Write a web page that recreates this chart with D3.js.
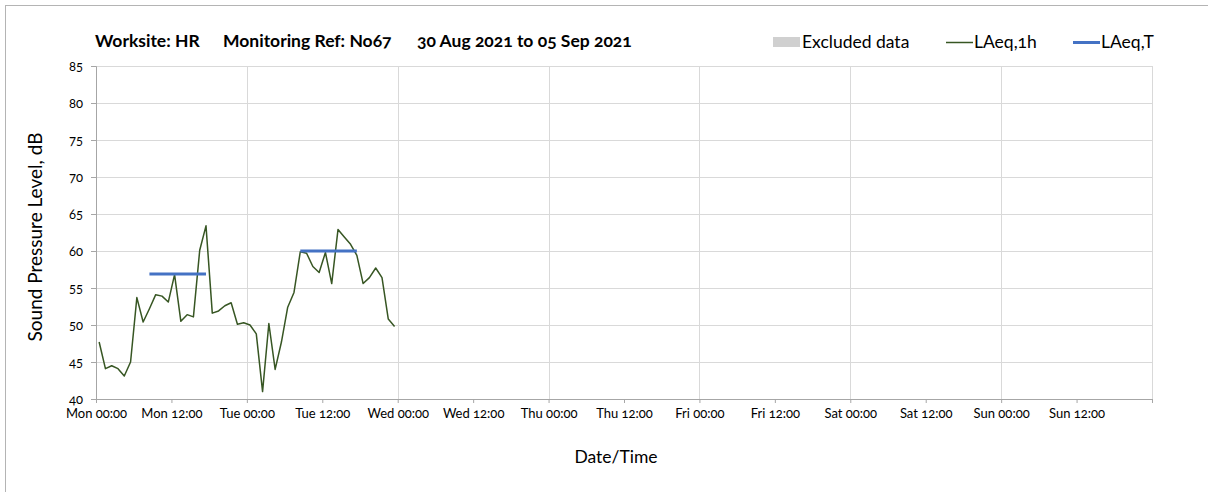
<!DOCTYPE html>
<html>
<head>
<meta charset="utf-8">
<script src="https://cdn.jsdelivr.net/npm/d3@7"></script>
<style>
	body { margin: 0; background: #fff; }
	text { font-family: Lato, "Open Sans", sans-serif; font-variant-numeric: oldstyle-nums; fill: #000; }
	.grid line { stroke: #d9d9d9; stroke-width: 1; }
	.axis path, .axis line { stroke: #a6a6a6; }
</style>
</head>
<body>
<svg class="chart" width="1208" height="492"></svg>
<script>
// hourly LAeq,1h values from Mon 30 Aug 2021 00:00, plotted at mid-hour
var startTime = '2021-08-30 00:30';
var laeq1h = [47.7, 44.1, 44.5, 44.1, 43.1, 45.0, 53.7, 50.4, 52.2, 54.1, 53.9, 53.1,
	56.8, 50.5, 51.4, 51.1, 60.1, 63.4, 51.6, 51.9, 52.6, 53.0, 50.1, 50.3,
	50.0, 48.8, 41.0, 50.2, 44.0, 47.7, 52.4, 54.4, 59.9, 59.7, 57.9, 57.1,
	59.8, 55.6, 62.9, 61.9, 60.9, 59.4, 55.6, 56.4, 57.7, 56.4, 50.8, 49.8];

// LAeq,T day periods
var periodFrom = ['2021-08-30 08:30', '2021-08-31 08:30'];
var periodTo = ['2021-08-30 17:30', '2021-08-31 17:30'];
var periodValue = [56.9, 60.0];

var axisStart = '2021-08-30 00:00',
	axisEnd = '2021-09-06 00:00';
var yTicks = [40, 45, 50, 55, 60, 65, 70, 75, 80, 85];

var titleParts = ['Worksite: HR', 'Monitoring Ref: No67', '30 Aug 2021 to 05 Sep 2021'];
var legendLabels = ['Excluded data', 'LAeq,1h', 'LAeq,T'];

var parseTime = d3.timeParse('%Y-%m-%d %H:%M'),
	formatTick = d3.timeFormat('%a %H:%M');

var margin = {top: 66, right: 56, bottom: 93, left: 96},
	width = 1208 - margin.left - margin.right,
	height = 492 - margin.top - margin.bottom;

var svg = d3.select('.chart');

// outer frame
svg.append('rect')
	.attr('x', 5.5).attr('y', 5.5)
	.attr('width', 1220).attr('height', 520)
	.attr('fill', 'none')
	.attr('stroke', '#b4b4b4');

var chart = svg.append('g')
	.attr('transform', 'translate(' + margin.left + ',' + margin.top + ')');

var x = d3.scaleTime()
	.domain([parseTime(axisStart), parseTime(axisEnd)])
	.range([0, width]);
var y = d3.scaleLinear()
	.domain([40, 85])
	.range([height, 0]);

var t0 = parseTime(startTime);
var points = laeq1h.map(function(v, i){
	return {t: d3.timeHour.offset(t0, i), v: v};
});

// grid
chart.append('g')
	.attr('class', 'grid')
	.selectAll('line.h')
	.data(yTicks.slice(1))
	.enter().append('line')
	.attr('x1', 0).attr('x2', width)
	.attr('y1', function(d){ return Math.round(y(d)) + 0.5; })
	.attr('y2', function(d){ return Math.round(y(d)) + 0.5; });

chart.append('g')
	.attr('class', 'grid')
	.selectAll('line.v')
	.data(d3.timeDay.range(d3.timeDay.offset(x.domain()[0], 1), d3.timeDay.offset(x.domain()[1], 1)))
	.enter().append('line')
	.attr('y1', 0).attr('y2', height)
	.attr('x1', function(d){ return Math.round(x(d)) + 0.5; })
	.attr('x2', function(d){ return Math.round(x(d)) + 0.5; });

// axes
var xAxis = d3.axisBottom(x)
	.tickValues(d3.timeHour.every(12).range(x.domain()[0], d3.timeHour.offset(x.domain()[1], 1)))
	.tickSize(4)
	.tickPadding(6)
	.tickFormat(function(d){ return +d === +x.domain()[1] ? '' : formatTick(d); });

var yAxis = d3.axisLeft(y)
	.tickValues(yTicks)
	.tickSize(5)
	.tickPadding(8)
	.tickFormat(d3.format('d'));

chart.append('g')
	.attr('class', 'x axis')
	.attr('transform', 'translate(0,' + height + ')')
	.call(xAxis)
	.call(function(g){ g.selectAll('text').style('font-size', '13px'); });

chart.append('g')
	.attr('class', 'y axis')
	.call(yAxis)
	.call(function(g){ g.selectAll('text').style('font-size', '13px'); });

chart.selectAll('.axis path').attr('stroke', '#a6a6a6');

// LAeq,1h line
var line = d3.line()
	.x(function(d){ return x(d.t); })
	.y(function(d){ return y(d.v); });

chart.append('path')
	.datum(points)
	.attr('fill', 'none')
	.attr('stroke', '#375623')
	.attr('stroke-width', 1.5)
	.attr('stroke-linejoin', 'round')
	.attr('d', line);

// LAeq,T lines
chart.selectAll('.laeqT')
	.data(periodValue)
	.enter().append('line')
	.attr('class', 'laeqT')
	.attr('x1', function(d, i){ return x(parseTime(periodFrom[i])); })
	.attr('x2', function(d, i){ return x(parseTime(periodTo[i])); })
	.attr('y1', function(d){ return y(d); })
	.attr('y2', function(d){ return y(d); })
	.attr('stroke', '#4472c4')
	.attr('stroke-width', 3);

// title
var titleX = [95, 223, 417];
svg.selectAll('.title')
	.data(titleParts)
	.enter().append('text')
	.attr('class', 'title')
	.attr('x', function(d, i){ return titleX[i]; })
	.attr('y', 47)
	.style('font-size', '17.5px')
	.style('font-weight', 'bold')
	.text(function(d){ return d; });

// legend
var legend = svg.append('g').attr('class', 'legend');
legend.append('rect')
	.attr('x', 773).attr('y', 37)
	.attr('width', 27).attr('height', 10)
	.attr('fill', '#d0d0d0');
legend.append('line')
	.attr('x1', 946).attr('x2', 973).attr('y1', 42.5).attr('y2', 42.5)
	.attr('stroke', '#375623').attr('stroke-width', 1.5);
legend.append('line')
	.attr('x1', 1073).attr('x2', 1100).attr('y1', 42.5).attr('y2', 42.5)
	.attr('stroke', '#4472c4').attr('stroke-width', 3);
var legendX = [802, 974, 1101];
legend.selectAll('text')
	.data(legendLabels)
	.enter().append('text')
	.attr('x', function(d, i){ return legendX[i]; })
	.attr('y', 48)
	.style('font-size', '17.5px')
	.text(function(d){ return d; });

// axis titles
svg.append('text')
	.attr('x', 616)
	.attr('y', 463)
	.attr('text-anchor', 'middle')
	.style('font-size', '17.5px')
	.text('Date/Time');

svg.append('text')
	.attr('transform', 'translate(42,237) rotate(-90)')
	.attr('text-anchor', 'middle')
	.style('font-size', '19px')
	.text('Sound Pressure Level, dB');
</script>
</body>
</html>
